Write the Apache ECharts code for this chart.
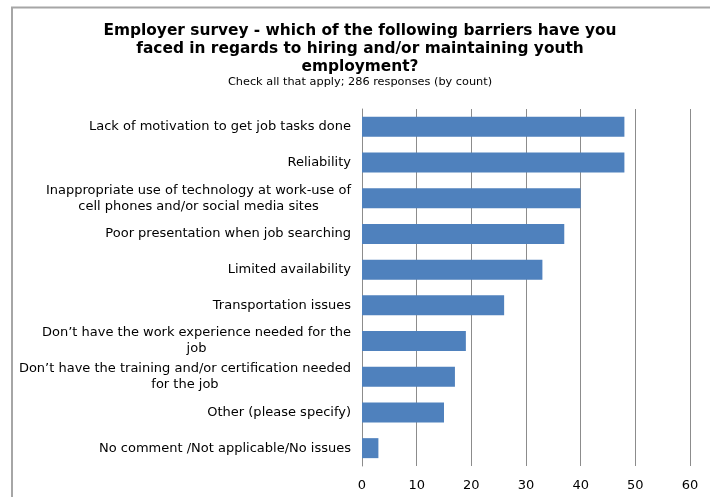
<!DOCTYPE html>
<html>
<head>
<meta charset="utf-8">
<script src="https://cdn.jsdelivr.net/npm/echarts@6/dist/echarts.min.js"></script>
<style>
  html, body { margin: 0; padding: 0; background: #fff; }
  #chart { width: 710px; height: 497px; }
</style>
</head>
<body>
<div id="chart"></div>
<script>
// Barrier categories, top to bottom
const categories = [
  "Lack of motivation to get job tasks done",
  "Reliability",
  "Inappropriate use of technology at work-use of\ncell phones and/or social media sites",
  "Poor presentation when job searching",
  "Limited availability",
  "Transportation issues",
  "Don\u2019t have the work experience needed for the\njob",
  "Don\u2019t have the training and/or certification needed\nfor the job",
  "Other (please specify)",
  "No comment /Not applicable/No issues"
];
// Response counts per barrier
const counts = [48, 48, 40, 37, 33, 26, 19, 17, 15, 3];
const xTicks = [0, 10, 20, 30, 40, 50, 60];

const titleText = "Employer survey - which of the following barriers have you\nfaced in regards to hiring and/or maintaining youth\nemployment?";
const subtitleText = "Check all that apply; 286 responses (by count)";

const font = "DejaVu Sans";
const chart = echarts.init(document.getElementById("chart"));
chart.setOption({
  animation: false,
  backgroundColor: "#ffffff",
  graphic: [
    {
      type: "polyline",
      shape: { points: [[12, 497], [12, 7.5], [710, 7.5]] },
      style: { stroke: "#a6a6a6", lineWidth: 2, fill: null },
      silent: true
    }
  ],
  title: {
    text: titleText,
    subtext: subtitleText,
    left: 355,
    textAlign: "center",
    top: 17,
    itemGap: 1,
    textStyle: {
      fontFamily: font, fontSize: 15.4, fontWeight: "bold", color: "#000",
      lineHeight: 18
    },
    subtextStyle: {
      fontFamily: font, fontSize: 11.3, color: "#000"
    }
  },
  grid: { left: 362, right: 20, top: 109, bottom: 31, containLabel: false },
  xAxis: {
    type: "value",
    min: 0, max: 60, interval: 10,
    axisLine: { show: false },
    axisTick: { show: false },
    splitLine: { show: true, lineStyle: { color: "#8c8c8c", width: 1 } },
    axisLabel: {
      fontFamily: font, fontSize: 13, color: "#000", margin: 13,
      formatter: v => xTicks.includes(v) ? String(v) : ""
    }
  },
  yAxis: {
    type: "category",
    data: categories,
    inverse: true,
    axisLine: { show: true, lineStyle: { color: "#8c8c8c", width: 1 } },
    axisTick: { show: false },
    axisLabel: {
      fontFamily: font, fontSize: 13, color: "#000", margin: 11,
      align: "right", lineHeight: 16,
      // each wrapped line centred within the label block
      formatter: v => v.split("\n").map(s => "{c|" + s + "}").join("\n"),
      rich: {
        c: { align: "center", fontFamily: font, fontSize: 13, color: "#000", lineHeight: 16 }
      }
    }
  },
  series: [{
    type: "bar",
    data: counts,
    barCategoryGap: "44%",
    itemStyle: { color: "#4f81bd" },
    silent: true
  }]
});
</script>
</body>
</html>
